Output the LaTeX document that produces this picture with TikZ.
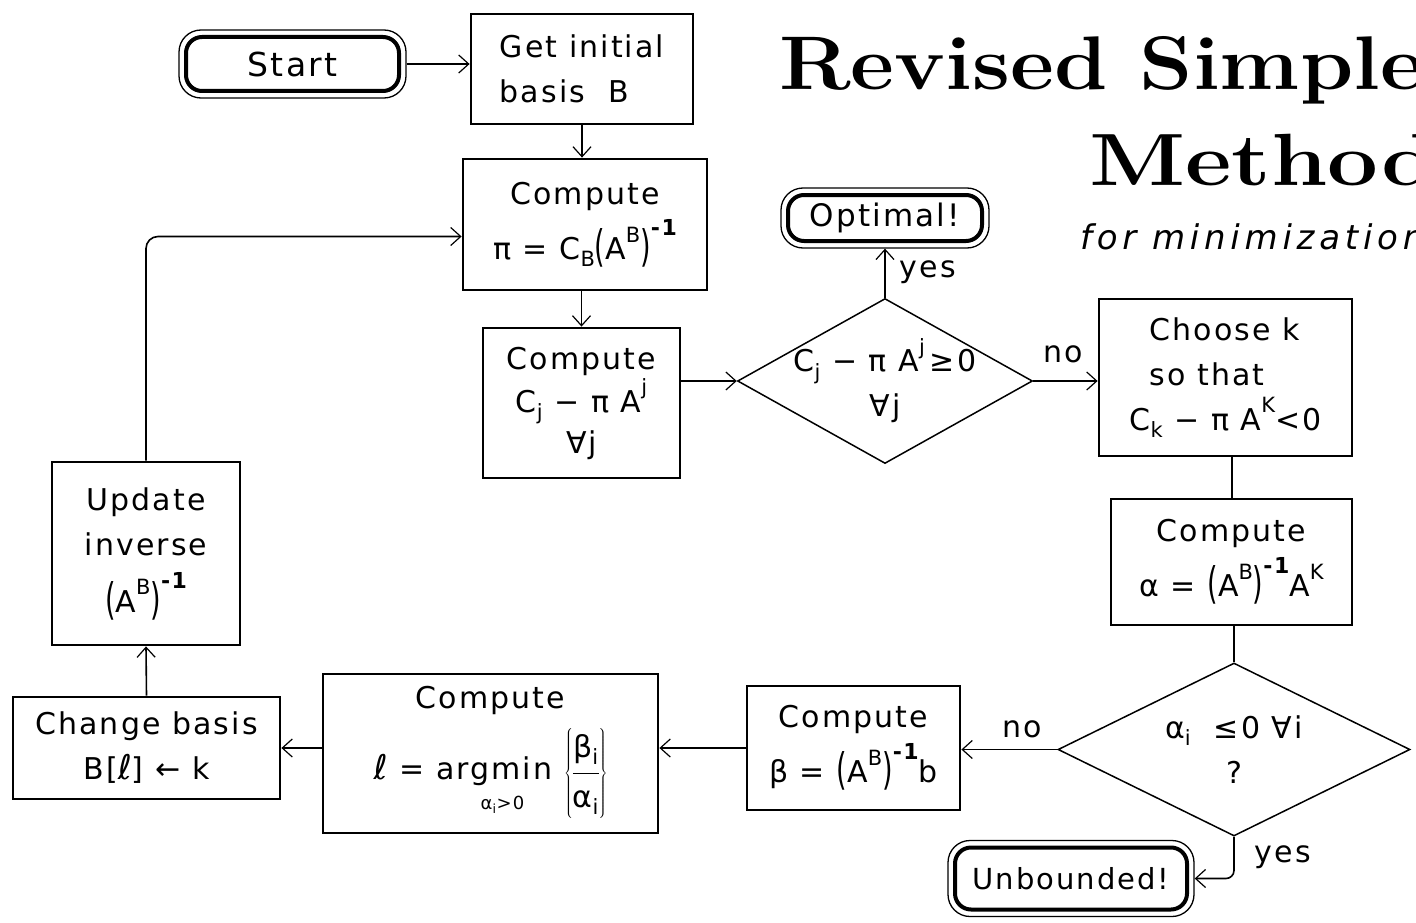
\documentclass[tikz,border=0pt]{standalone}
\usepackage{fontspec}
\usetikzlibrary{arrows.meta,shapes.geometric,fit,calc}
\newfontfamily\gen{DejaVu Sans}[LetterSpace=7]
\newfontfamily\subt{DejaVu Sans}[LetterSpace=14]
\newcommand\lo[1]{\raisebox{-0.45ex}{\fontsize{21}{21}\selectfont #1}}
\newcommand\hi[1]{\raisebox{1.05ex}{\fontsize{21}{21}\selectfont #1}}
\newcommand\hii[1]{\raisebox{1.45ex}{\fontsize{22}{22}\selectfont\bfseries #1}}
\newcommand\lpar{\raisebox{-2pt}{\scalebox{0.9}[1.45]{(}}}
\newcommand\rpar{\raisebox{-2pt}{\scalebox{0.9}[1.45]{)}}}
\newcommand\bigp[1]{\lpar#1\rpar}
\tikzset{
  box/.style={draw, line width=2.8pt, inner sep=0pt, align=center,
    font=\gen\fontsize{30}{45}\selectfont},
  dia/.style={diamond, draw, line width=1.5pt, inner sep=0pt},
  txt/.style={inner sep=0pt, align=center, font=\gen\fontsize{30}{45}\selectfont},
  term/.style={draw, line width=4pt, rounded corners=16pt, inner sep=0pt},
  termout/.style={draw, line width=1.3pt, rounded corners=22pt, inner sep=5pt},
  arr/.style={line width=1.6pt, -{Straight Barb[length=10pt,width=18pt,line width=1.2pt]}},
  con/.style={line width=2pt},
  lab/.style={inner sep=0pt, font=\gen\fontsize{30}{30}\selectfont},
}
\begin{document}
\begin{tikzpicture}[x=1pt,y=-1pt]
\useasboundingbox (0,0) rectangle (1416,923);
\fill[white] (0,0) rectangle (1416,923);
\begin{scope}
\clip (0,0) rectangle (1416,923);
\node[anchor=base west, inner sep=0pt, font=\fontsize{76}{76}\selectfont\bfseries] (title1) at (779,90) {\scalebox{1.125}[1]{Revised Simplex}};
\node[anchor=base west, inner sep=0pt, font=\fontsize{74}{74}\selectfont\bfseries] (title2) at (1089,185) {\scalebox{1.22}[1]{Method}};
\node[anchor=base west, inner sep=0pt, font=\subt\itshape\fontsize{34}{34}\selectfont] (title3) at (1080,249) {for minimization};
\end{scope}

% terminals
\node[term, font=\gen\fontsize{33}{45}\selectfont, minimum width=213pt, minimum height=54pt] (startin) at (292.5,64) {Start};
\node[termout, fit=(startin)] (start) {};
\node[term, font=\gen\fontsize{31}{45}\selectfont, minimum width=194pt, minimum height=46pt] (optin) at (885,218) {Optimal!};
\node[termout, fit=(optin)] (opt) {};
\node[term, font=\gen\fontsize{29}{45}\selectfont, minimum width=232pt, minimum height=62pt] (unbin) at (1071,878.5) {Unbounded!};
\node[termout, fit=(unbin)] (unb) {};

% boxes
\node[box, align=left, minimum width=222pt, minimum height=110pt] (get) at (582,69) {Get initial\\basis\ \ B};
\node[box, minimum width=244pt, minimum height=131pt] (pi) at (585,224.5) {Compute\\[8pt]π = C\lo{B}\bigp{A\hi{B}}\hii{-1}};
\node[box, minimum width=197pt, minimum height=150pt] (cj) at (581.5,403) {Compute\\[-2pt]C\lo{j} − π A\hi{j}\\[-4pt]∀j};
\node[box, align=left, minimum width=253pt, minimum height=157pt] (choosek) at (1225.5,377.5) {\hspace*{20pt}Choose k\\\hspace*{20pt}so that\\C\lo{k} − π A\hi{K}<0};
\node[box, minimum width=241pt, minimum height=126pt] (alpha) at (1231.5,562) {Compute\\[8pt]α = \bigp{A\hi{B}}\hii{-1}A\hi{K}};
\node[box, minimum width=213pt, minimum height=124pt] (beta) at (853.5,748) {Compute\\[8pt]β = \bigp{A\hi{B}}\hii{-1}b};
\node[box, minimum width=335pt, minimum height=159pt] (ell) at (490.5,753.5) {Compute\\[10pt]{\itshape\fontsize{34}{34}\selectfont ℓ} = argmin\llap{\raisebox{-30pt}{\fontsize{18}{18}\selectfont α\textsubscript{i}>0}\hspace{28pt}}\ $\left\{\vcenter{\hbox{\begin{tabular}{@{}c@{}}β\lo{i}\\[2pt]\hline\rule{0pt}{34pt}α\lo{i}\end{tabular}}}\right\}$};
\node[box, minimum width=267pt, minimum height=102pt] (change) at (146.5,748) {Change basis\\B[{\itshape\fontsize{34}{34}\selectfont ℓ}] ← k};
\node[box, minimum width=188pt, minimum height=183pt] (update) at (146,553.5) {Update\\inverse\\[12pt]\bigp{A\hi{B}}\hii{-1}};

% diamonds
\node[dia, minimum width=295pt, minimum height=165pt] (d1) at (885,381) {};
\node[txt] (d1t) at (d1) {C\lo{j} − π A\hi{j}\,≥0\\∀j};
\node[dia, minimum width=352pt, minimum height=173pt] (d2) at (1234,749.5) {};
\node[txt] (d2t) at (d2) {α\lo{i}\ \ ≤0 ∀i\\?};

% connectors
\draw[arr] (start.east) -- (get.west |- start.east);
\draw[arr] (get.south) -- (get.south |- pi.north);
\draw[arr] (cj.north |- pi.south) -- (cj.north);
\draw[arr] (cj.east |- d1.west) -- (d1.west);
\draw[arr] (d1.north) -- (d1.north |- opt.south);
\draw[arr] (d1.east) -- (choosek.west |- d1.east);
\draw[con] (alpha.north |- choosek.south) -- (alpha.north);
\draw[con] (d2.north |- alpha.south) -- (d2.north);
\draw[arr] (d2.west) -- (beta.east |- d2.west);
\draw[arr, rounded corners=8pt] (d2.south) |- (unb.east);
\draw[arr] (beta.west) -- (ell.east |- beta.west);
\draw[arr] (ell.west |- change.east) -- (change.east);
\draw[arr] (change.north) -- (update.south);
\draw[arr, rounded corners=12pt] (update.north) |- ($(pi.west)+(0,12)$);

% labels
\node[lab] (yes1) at (928,272) {yes};
\node[lab] (no1) at (1063,354) {no};
\node[lab] (no2) at (1022,729) {no};
\node[lab] (yes2) at (1283,857) {yes};
\end{tikzpicture}
\end{document}
